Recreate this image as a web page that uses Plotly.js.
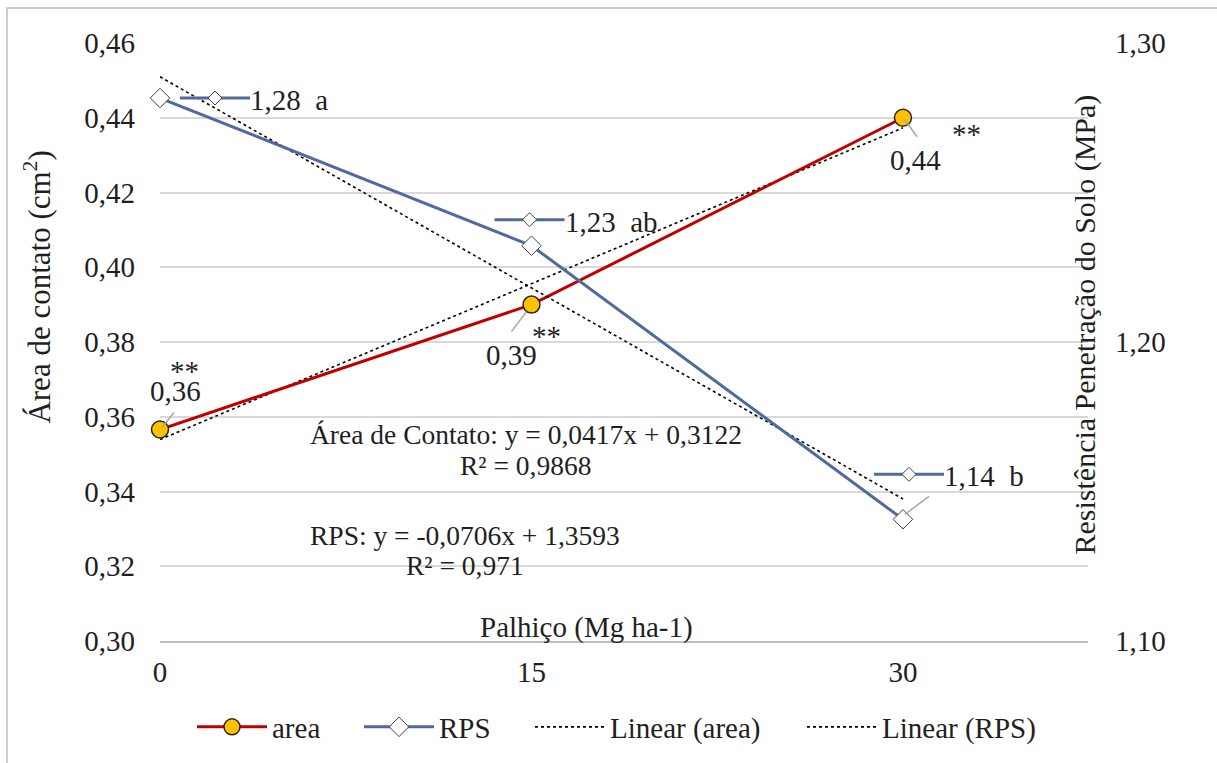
<!DOCTYPE html>
<html>
<head>
<meta charset="utf-8">
<script src="https://cdn.plot.ly/plotly-3.0.1.min.js"></script>
<style>html,body{margin:0;padding:0;background:#fff;}#chart{width:1217px;height:763px;}</style>
</head>
<body>
<div id="chart"></div>
<script>
// ---- data ----
const xVals = [0, 15, 30];
const xTickText = ['0', '15', '30'];
const areaVals = [0.3566, 0.390, 0.440];
const rpsVals = [1.2816, 1.2322, 1.1407];
const rpsLetters = ['a', 'ab', 'b'];
const areaTrend = [0.3539, 0.3956, 0.4373];
const rpsTrend = [1.2887, 1.2181, 1.1475];
const leftTicks = [0.30, 0.32, 0.34, 0.36, 0.38, 0.40, 0.42, 0.44, 0.46];
const rightTicks = [1.10, 1.20, 1.30];
const eqArea = ['Área de Contato: y = 0,0417x + 0,3122', 'R² = 0,9868'];
const eqRps = ['RPS: y = -0,0706x + 1,3593', 'R² = 0,971'];

const FONT = 'Liberation Serif, Times New Roman, serif';
const FS = 29;
const TXT = '#1f1f1f';
const RED = '#C00000';
const BLUE = '#4F6A9B';
const fmt = v => v.toFixed(2).replace('.', ',');

const traces = [
  {x: xVals, y: areaTrend, name: 'Linear (area)', mode: 'lines', legend: 'legend3',
   line: {color: '#000', width: 1.6, dash: 'dot'}, hoverinfo: 'skip', cliponaxis: false},
  {x: xVals, y: areaVals, name: 'area', mode: 'lines+markers', legend: 'legend',
   line: {color: RED, width: 3}, cliponaxis: false,
   marker: {symbol: 'circle', size: 17, color: '#FFC000', line: {color: '#262626', width: 1.5}}},
  {x: xVals, y: rpsTrend, yaxis: 'y2', name: 'Linear (RPS)', mode: 'lines', legend: 'legend4',
   line: {color: '#000', width: 1.6, dash: 'dot'}, hoverinfo: 'skip', cliponaxis: false},
  {x: xVals, y: rpsVals, yaxis: 'y2', name: 'RPS', mode: 'lines+markers', legend: 'legend2',
   line: {color: BLUE, width: 3}, cliponaxis: false,
   marker: {symbol: 'diamond', size: 15, color: '#ffffff', line: {color: '#404040', width: 1}}}
];

const annotations = [];
const shapes = [];
const px = (p) => (p - 160) / 928;
const py = (p) => (642 - p) / 599;

// area labels
const areaLabelShift = [[15, 38], [-20, -50], [13, -42]];
const areaStarShift = [[24, 58], [15, -31], [64, -16]];
const areaLeader = [[2, 2, 14, 17], [-5, -7, -20, -27], [2, -2, 14, -19]];
xVals.forEach((x, i) => {
  annotations.push({x: x, y: areaVals[i], xref: 'x', yref: 'y', text: fmt(areaVals[i]), showarrow: false,
    xshift: areaLabelShift[i][0], yshift: areaLabelShift[i][1], font: {family: FONT, size: FS, color: TXT}});
  annotations.push({x: x, y: areaVals[i], xref: 'x', yref: 'y', text: '**', showarrow: false,
    xshift: areaStarShift[i][0], yshift: areaStarShift[i][1], font: {family: FONT, size: FS, color: TXT}});
  const L = areaLeader[i];
  shapes.push({type: 'line', xref: 'x', yref: 'y', xsizemode: 'pixel', ysizemode: 'pixel',
    xanchor: x, yanchor: areaVals[i], x0: L[0], y0: L[1], x1: L[2], y1: L[3],
    line: {color: '#A6A6A6', width: 1.5}});
});

// RPS labels with legend key
const rpsLabelShift = [[88, -2], [31, 24], [39, 43]];
xVals.forEach((x, i) => {
  const s = rpsLabelShift[i];
  annotations.push({x: x, y: rpsVals[i], xref: 'x', yref: 'y2', xanchor: 'left',
    text: fmt(rpsVals[i]) + '\u00a0\u00a0' + rpsLetters[i], showarrow: false,
    xshift: s[0], yshift: s[1], font: {family: FONT, size: FS, color: TXT}});
  const left = s[0], ky = s[1] + 2;
  shapes.push({type: 'line', xref: 'x', yref: 'y2', xsizemode: 'pixel', ysizemode: 'pixel',
    xanchor: x, yanchor: rpsVals[i], x0: left - 68, x1: left + 2, y0: ky, y1: ky,
    line: {color: BLUE, width: 3}});
  const cx = left - 33;
  shapes.push({type: 'path', xref: 'x', yref: 'y2', xsizemode: 'pixel', ysizemode: 'pixel',
    xanchor: x, yanchor: rpsVals[i],
    path: `M${cx - 7},${ky} L${cx},${ky + 7} L${cx + 7},${ky} L${cx},${ky - 7} Z`,
    fillcolor: '#ffffff', line: {color: '#404040', width: 1}});
});
// leader for RPS at 30
shapes.push({type: 'line', xref: 'x', yref: 'y2', xsizemode: 'pixel', ysizemode: 'pixel',
  xanchor: xVals[2], yanchor: rpsVals[2], x0: 2, y0: 5, x1: 26, y1: 23,
  line: {color: '#A6A6A6', width: 1.5}});

function paperText(text, x, y, size, extra) {
  return Object.assign({xref: 'paper', yref: 'paper', x: px(x), y: py(y), xanchor: 'center', yanchor: 'middle',
    text: text, showarrow: false, font: {family: FONT, size: size, color: TXT}}, extra || {});
}
// equations
annotations.push(paperText(eqArea[0], 526, 435, 27.5));
annotations.push(paperText(eqArea[1], 525, 466, 27.5));
annotations.push(paperText(eqRps[0], 465, 536, 27.5));
annotations.push(paperText(eqRps[1], 465, 566, 27.5));

// axis titles
annotations.push(paperText('Área de contato (cm<sup>2</sup>)', 38, 288, 31, {textangle: -90}));
annotations.push(paperText('Resistência Penetração do Solo (MPa)', 1085, 325, 30, {textangle: -90}));
annotations.push(paperText('Palhiço (Mg ha-1)', 586, 628, FS));

// outer border
shapes.push({type: 'rect', xref: 'paper', yref: 'paper', x0: px(7), x1: px(1240), y0: py(790), y1: py(8),
  line: {color: '#BFBFBF', width: 1.5}, fillcolor: 'rgba(0,0,0,0)', layer: 'below'});

function leg(xpix) {
  return {orientation: 'h', x: px(xpix), xanchor: 'left', y: py(727), yanchor: 'middle',
    font: {family: FONT, size: FS, color: TXT}, itemwidth: 70, bgcolor: 'rgba(0,0,0,0)', borderwidth: 0};
}

const layout = {
  width: 1217, height: 763,
  margin: {l: 160, r: 129, t: 43, b: 121, pad: 0},
  paper_bgcolor: '#ffffff', plot_bgcolor: '#ffffff',
  separators: ', ',
  font: {family: FONT, size: FS, color: TXT},
  showlegend: true,
  legend: leg(192), legend2: leg(359), legend3: leg(530), legend4: leg(802),
  xaxis: {range: [0, 37.47], tickvals: xVals, ticktext: xTickText, showgrid: false, zeroline: false,
    showline: true, linecolor: '#BFBFBF', linewidth: 2, ticks: '', ticklabelstandoff: 4,
    tickfont: {family: FONT, size: FS, color: TXT}, fixedrange: true},
  yaxis: {range: [0.30, 0.46], tickvals: leftTicks, tickformat: '.2f', showgrid: true, gridcolor: '#D9D9D9', gridwidth: 2,
    zeroline: false, showline: false, ticks: '', ticklabelstandoff: 24,
    tickfont: {family: FONT, size: FS, color: TXT}, fixedrange: true},
  yaxis2: {range: [1.10, 1.30], tickvals: rightTicks, tickformat: '.2f', overlaying: 'y', side: 'right',
    showgrid: false, zeroline: false, showline: false, ticks: '', ticklabelstandoff: 26,
    tickfont: {family: FONT, size: FS, color: TXT}, fixedrange: true},
  annotations: annotations,
  shapes: shapes
};

Plotly.newPlot('chart', traces, layout, {displayModeBar: false, staticPlot: true});
</script>
</body>
</html>
